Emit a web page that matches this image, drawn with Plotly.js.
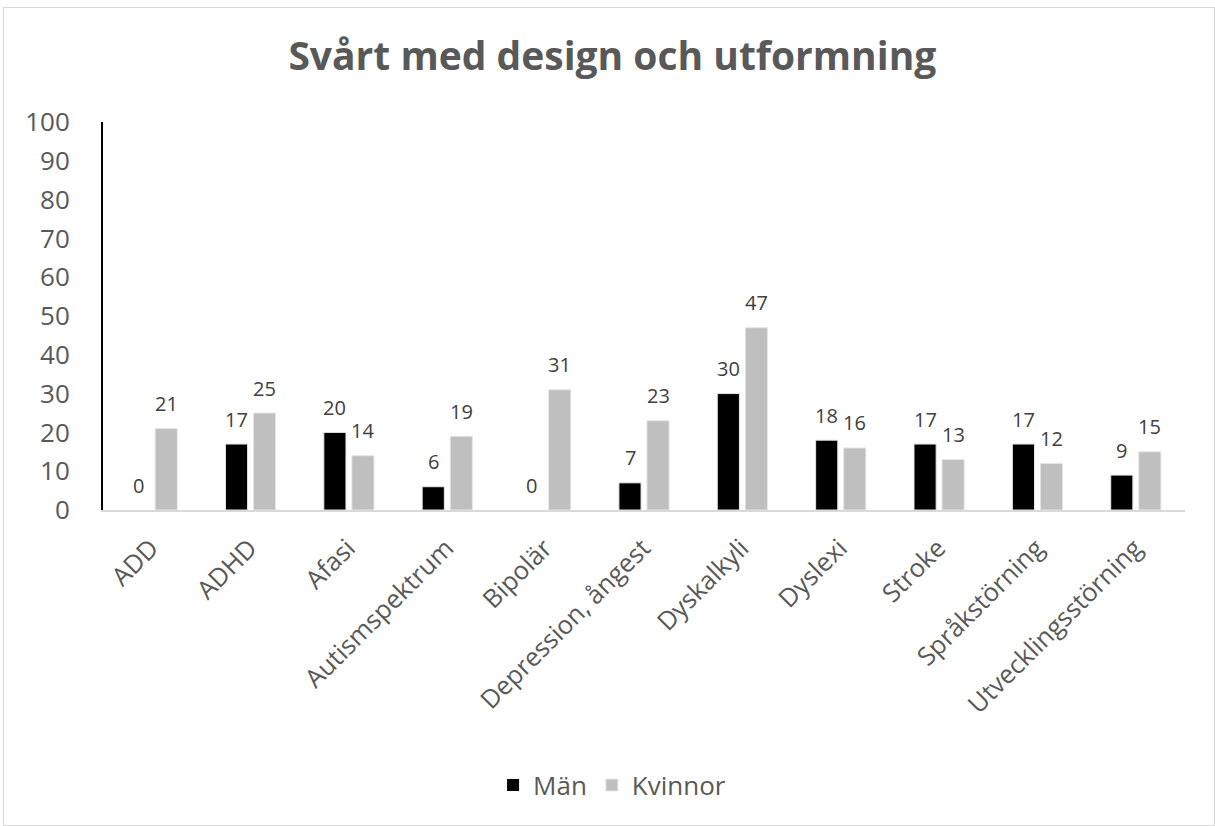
<!DOCTYPE html>
<html><head><meta charset="utf-8">
<script src="https://cdn.plot.ly/plotly-3.0.1.min.js"></script>
<style>
html,body{margin:0;padding:0;background:#fff;}
#frame{position:absolute;left:3px;top:7px;width:1212px;height:819px;border:1px solid #d9d9d9;box-sizing:border-box;}
#chart{position:absolute;left:0;top:0;width:1215px;height:826px;}
</style></head>
<body>
<div id="frame"></div>
<div id="chart"></div>
<script>
const categories = ["ADD","ADHD","Afasi","Autismspektrum","Bipolär","Depression, ångest","Dyskalkyli","Dyslexi","Stroke","Språkstörning","Utvecklingsstörning"];
const man = [0,17,20,6,0,7,30,18,17,17,9];
const kvinnor = [21,25,14,19,31,23,47,16,13,12,15];
const yTicks = [0,10,20,30,40,50,60,70,80,90,100];

const font = "Open Sans, sans-serif";
const traces = [
  {type:'bar', name:'Män', x:categories, y:man,
   marker:{color:'#000000', line:{color:man.map(v => v === 0 ? 'rgba(0,0,0,0)' : '#e6e6e6'), width:1}}, hoverinfo:'x+y'},
  {type:'bar', name:'Kvinnor', x:categories, y:kvinnor,
   marker:{color:'#bfbfbf', line:{color:'#e6e6e6', width:1}}, hoverinfo:'x+y'}
];
const labelFont = {family:font, size:20, color:'#404040'};
const annotations = [];
categories.forEach((c, i) => {
  annotations.push({x:c, y:man[i], xref:'x', yref:'y', text:String(man[i]), showarrow:false,
    xshift:-14, yshift:25, yanchor:'middle', font:labelFont});
  annotations.push({x:c, y:kvinnor[i], xref:'x', yref:'y', text:String(kvinnor[i]), showarrow:false,
    xshift:14, yshift:25, yanchor:'middle', font:labelFont});
});
const layout = {
  width:1215, height:826,
  paper_bgcolor:'rgba(0,0,0,0)', plot_bgcolor:'rgba(0,0,0,0)',
  margin:{l:103, r:30, t:122, b:316},
  font:{family:font, color:'#595959'},
  title:{text:'<b>Svårt med design och utformning</b>', x:0.504, xref:'container', xanchor:'center',
    y:0.932, yref:'container', yanchor:'middle',
    font:{family:font, size:39, color:'#595959'}},
  barmode:'group', bargap:0.43, bargroupgap:0.21,
  xaxis:{type:'category', tickangle:-45, showline:true, linecolor:'#d9d9d9', linewidth:2,
    ticks:'', ticklabelstandoff:11, ticklabelshift:-1, tickfont:{family:font, size:25.5, color:'#595959'},
    showgrid:false, zeroline:false},
  yaxis:{range:[0,100], tickvals:yTicks, showline:true, linecolor:'#000000', linewidth:2,
    ticks:'', ticklabelstandoff:26, tickfont:{family:font, size:26, color:'#595959'},
    showgrid:false, zeroline:false},
  annotations: annotations,
  showlegend:true,
  legend:{orientation:'h', x:0.4705, xanchor:'center', y:-0.709, yanchor:'middle',
    font:{family:font, size:26, color:'#595959'}, itemwidth:30, traceorder:'normal'}
};
Plotly.newPlot('chart', traces, layout, {displayModeBar:false});
</script>
</body></html>
